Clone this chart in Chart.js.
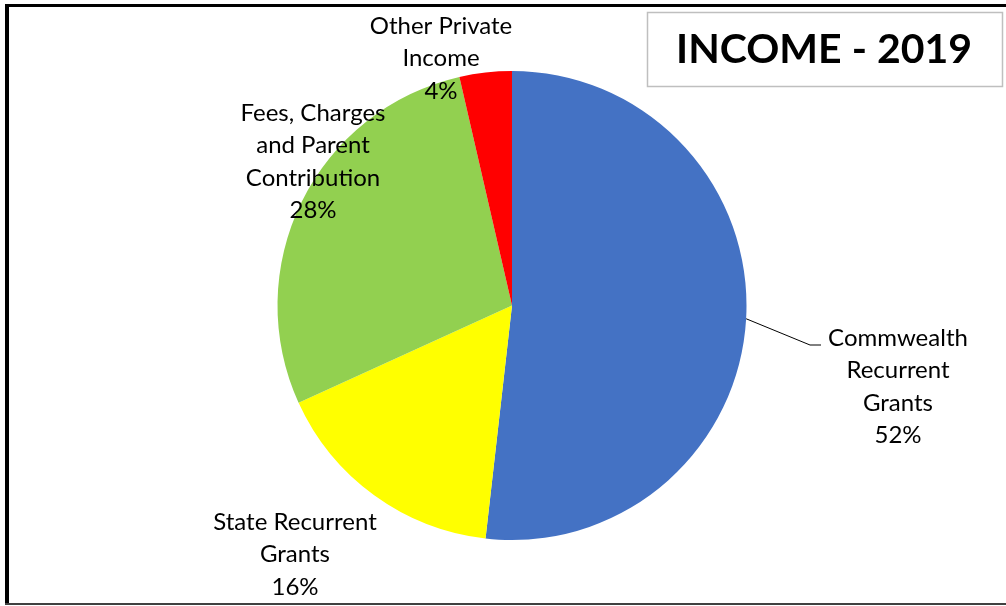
<!DOCTYPE html>
<html>
<head>
<meta charset="utf-8">
<script src="https://cdn.jsdelivr.net/npm/chart.js@4/dist/chart.umd.min.js"></script>
<style>
html,body{margin:0;padding:0;background:#fff;}
canvas{display:block;}
</style>
</head>
<body>
<canvas id="c" width="1006" height="606"></canvas>
<script>
const categories = [
  ["Commwealth", "Recurrent", "Grants"],
  ["State Recurrent", "Grants"],
  ["Fees, Charges", "and Parent", "Contribution"],
  ["Other Private", "Income"]
];
const values = [51.8, 16.4, 28.2, 3.6];
const percentLabels = ["52%", "16%", "28%", "4%"];
const colors = ["#4472C4", "#FFFF00", "#92D050", "#FF0000"];
const titleText = "INCOME - 2019";

const FONT = "Lato, 'Open Sans', sans-serif";

const framePlugin = {
  id: 'frame',
  beforeDraw(chart) {
    const ctx = chart.ctx;
    ctx.save();
    ctx.fillStyle = '#fff';
    ctx.fillRect(0, 0, chart.width, chart.height);
    ctx.fillStyle = '#000';
    ctx.fillRect(5, 4, chart.width - 5, 3);
    ctx.fillRect(5, 4, 4, 600);
    ctx.fillStyle = '#404040';
    ctx.fillRect(5, 603, chart.width - 5, 2);
    ctx.restore();
  }
};

const labelPlugin = {
  id: 'labels',
  afterDraw(chart) {
    const ctx = chart.ctx;
    const meta = chart.getDatasetMeta(0);
    ctx.save();
    // title box
    ctx.strokeStyle = '#bfbfbf';
    ctx.lineWidth = 1.5;
    ctx.strokeRect(647.5, 12.5, 355, 74);
    ctx.fillStyle = '#000';
    ctx.font = "bold 41px " + FONT;
    ctx.textAlign = 'center';
    ctx.textBaseline = 'middle';
    ctx.fillText(titleText, 824, 50);

    const anchors = [
      {x: 898, y: 338},
      {x: 295, y: 522},
      {x: 313, y: 113},
      {x: 441, y: 26}
    ];
    const lh = 32.5;
    ctx.font = "24px " + FONT;
    categories.forEach((lines, i) => {
      const a = anchors[i];
      const all = lines.concat([percentLabels[i]]);
      all.forEach((t, k) => ctx.fillText(t, a.x, a.y + k * lh));
    });

    const arc = meta.data[0];
    const mid = (arc.startAngle + arc.endAngle) / 2;
    const sx = arc.x + Math.cos(mid) * arc.outerRadius;
    const sy = arc.y + Math.sin(mid) * arc.outerRadius;
    ctx.strokeStyle = '#000';
    ctx.lineWidth = 1;
    ctx.beginPath();
    ctx.moveTo(sx, sy);
    ctx.lineTo(810, 345);
    ctx.lineTo(821, 345);
    ctx.stroke();
    ctx.restore();
  }
};

new Chart(document.getElementById('c'), {
  type: 'pie',
  data: {
    labels: categories.map(l => l.join(' ')),
    datasets: [{
      data: values,
      backgroundColor: colors,
      borderWidth: 0
    }]
  },
  options: {
    responsive: false,
    animation: false,
    layout: { padding: { top: 71, bottom: 66, left: 277.5, right: 259.5 } },
    plugins: {
      legend: { display: false },
      tooltip: { enabled: false },
      title: { display: false }
    }
  },
  plugins: [framePlugin, labelPlugin]
});
</script>
</body>
</html>
